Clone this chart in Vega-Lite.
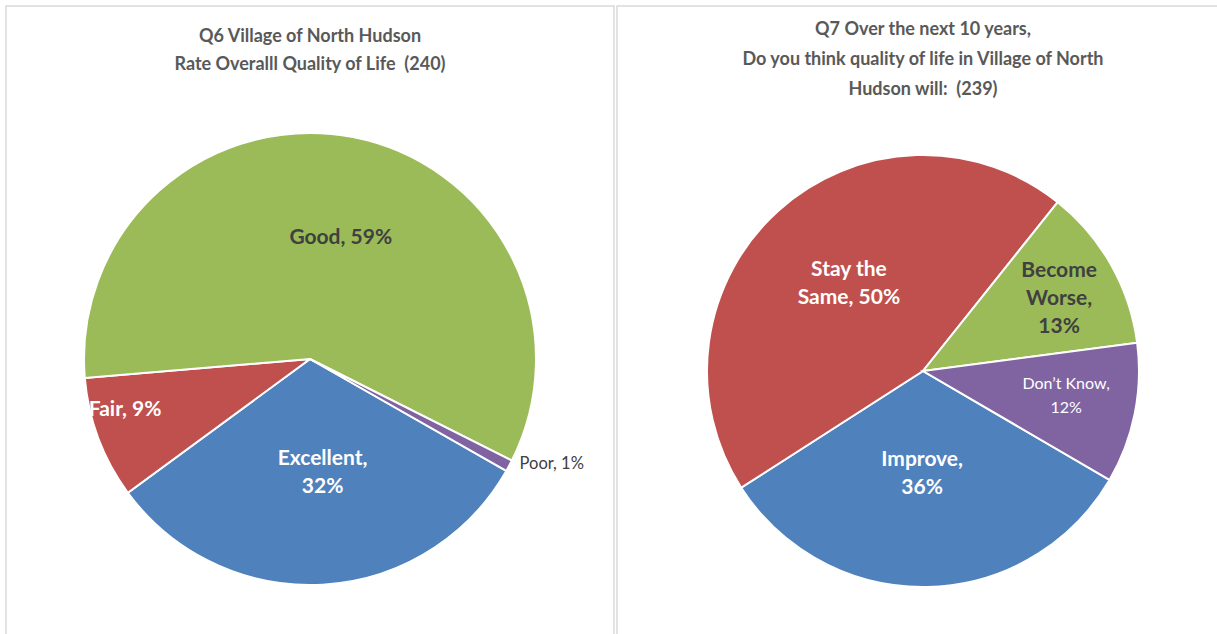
{
  "$schema": "https://vega.github.io/schema/vega-lite/v6.json",
  "background": "white",
  "padding": {"left": 5, "top": 5, "right": 0, "bottom": 0},
  "spacing": 1,
  "config": {"view": {"stroke": "#d9d9d9", "strokeWidth": 1.5}, "font": "Lato"},
  "resolve": {"scale": {"color": "independent", "theta": "independent"}},
  "datasets": {
    "q6": [
      {"answer": "Excellent", "count": 76, "ord": 1, "label": "Excellent,\n32%"},
      {"answer": "Fair", "count": 21, "ord": 2, "label": "Fair, 9%"},
      {"answer": "Good", "count": 141, "ord": 3, "label": "Good, 59%"},
      {"answer": "Poor", "count": 2, "ord": 4, "label": "Poor, 1%"}
    ],
    "q7": [
      {"answer": "Improve", "share": 32.5, "ord": 1, "label": "Improve,\n36%"},
      {"answer": "Stay the Same", "share": 44.8, "ord": 2, "label": "Stay the\nSame, 50%"},
      {"answer": "Become Worse", "share": 12.2, "ord": 3, "label": "Become\nWorse,\n13%"},
      {"answer": "Don't Know", "share": 10.5, "ord": 4, "label": "Don’t Know,\n12%"}
    ]
  },
  "hconcat": [
    {
      "width": 608,
      "height": 706,
      "view": {"stroke": "#d9d9d9", "strokeWidth": 1.5},
      "title": {"text": ["Q6 Village of North Hudson", "Rate Overalll Quality of Life \u00a0(240)"], "baseline": "top", "offset": -68, "lineHeight": 28, "fontSize": 18, "fontWeight": "bold", "color": "#595959", "font": "Lato", "anchor": "middle"},
      "data": {"name": "q6"},
      "encoding": {
        "theta": {"field": "count", "type": "quantitative", "stack": true, "scale": {"range": [2.0892, 8.3724]}},
        "order": {"field": "ord", "type": "quantitative"},
        "detail": {"field": "answer", "type": "nominal"}
      },
      "layer": [
        {
          "mark": {"type": "arc", "outerRadius": 226, "stroke": "white", "strokeWidth": 2},
          "encoding": {"color": {"field": "answer", "type": "nominal", "legend": null, "scale": {"domain": ["Excellent", "Fair", "Good", "Poor"], "range": ["#4F81BD", "#C0504D", "#9BBB59", "#8064A2"]}}}
        },
        {
          "mark": {"type": "text", "radius": 114, "dx": 6, "dy": -14, "fontSize": 21, "fontWeight": "bold", "fill": "white", "lineBreak": "\n", "lineHeight": 28, "font": "Lato"},
          "encoding": {"text": {"condition": {"test": "datum.answer === 'Excellent'", "field": "label"}, "value": ""}}
        },
        {
          "mark": {"type": "text", "radius": 190, "dx": -7, "dy": -16, "fontSize": 21, "fontWeight": "bold", "fill": "white", "font": "Lato"},
          "encoding": {"text": {"condition": {"test": "datum.answer === 'Fair'", "field": "label"}, "value": ""}}
        },
        {
          "mark": {"type": "text", "radius": 125, "dx": 7, "dy": 2, "fontSize": 21, "fontWeight": "bold", "fill": "#404040", "font": "Lato"},
          "encoding": {"text": {"condition": {"test": "datum.answer === 'Good'", "field": "label"}, "value": ""}}
        },
        {
          "mark": {"type": "text", "radius": 255, "dx": 17, "dy": -16, "fontSize": 16.5, "fill": "#404040", "font": "Lato"},
          "encoding": {"text": {"condition": {"test": "datum.answer === 'Poor'", "field": "label"}, "value": ""}}
        }
      ]
    },
    {
      "width": 612,
      "height": 730,
      "view": {"stroke": "#d9d9d9", "strokeWidth": 1.5},
      "title": {"text": ["Q7 Over the next 10 years,", "Do you think quality of life in Village of North", "Hudson will: \u00a0(239)"], "baseline": "top", "offset": -93, "lineHeight": 30, "fontSize": 18, "fontWeight": "bold", "color": "#595959", "font": "Lato", "anchor": "middle"},
      "data": {"name": "q7"},
      "encoding": {
        "theta": {"field": "share", "type": "quantitative", "stack": true, "scale": {"range": [2.0996, 8.3828]}},
        "order": {"field": "ord", "type": "quantitative"},
        "detail": {"field": "answer", "type": "nominal"}
      },
      "layer": [
        {
          "mark": {"type": "arc", "outerRadius": 216, "stroke": "white", "strokeWidth": 2},
          "encoding": {"color": {"field": "answer", "type": "nominal", "legend": null, "scale": {"domain": ["Improve", "Stay the Same", "Become Worse", "Don't Know"], "range": ["#4F81BD", "#C0504D", "#9BBB59", "#8064A2"]}}}
        },
        {
          "mark": {"type": "text", "radius": 102, "dx": -3, "dy": -13, "fontSize": 21, "fontWeight": "bold", "fill": "white", "lineBreak": "\n", "lineHeight": 28, "font": "Lato"},
          "encoding": {"text": {"condition": {"test": "datum.answer === 'Improve'", "field": "label"}, "value": ""}}
        },
        {
          "mark": {"type": "text", "radius": 115, "dx": 3, "dy": -16, "fontSize": 21, "fontWeight": "bold", "fill": "white", "lineBreak": "\n", "lineHeight": 28, "font": "Lato"},
          "encoding": {"text": {"condition": {"test": "datum.answer === 'Stay the Same'", "field": "label"}, "value": ""}}
        },
        {
          "mark": {"type": "text", "radius": 154, "dx": 2, "dy": -24, "fontSize": 21, "fontWeight": "bold", "fill": "#404040", "lineBreak": "\n", "lineHeight": 28, "font": "Lato"},
          "encoding": {"text": {"condition": {"test": "datum.answer === 'Become Worse'", "field": "label"}, "value": ""}}
        },
        {
          "mark": {"type": "text", "radius": 146, "dy": -16, "fontSize": 16, "fill": "white", "lineBreak": "\n", "lineHeight": 24, "font": "Lato"},
          "encoding": {"text": {"condition": {"test": "datum.answer === \"Don't Know\"", "field": "label"}, "value": ""}}
        }
      ]
    }
  ]
}
